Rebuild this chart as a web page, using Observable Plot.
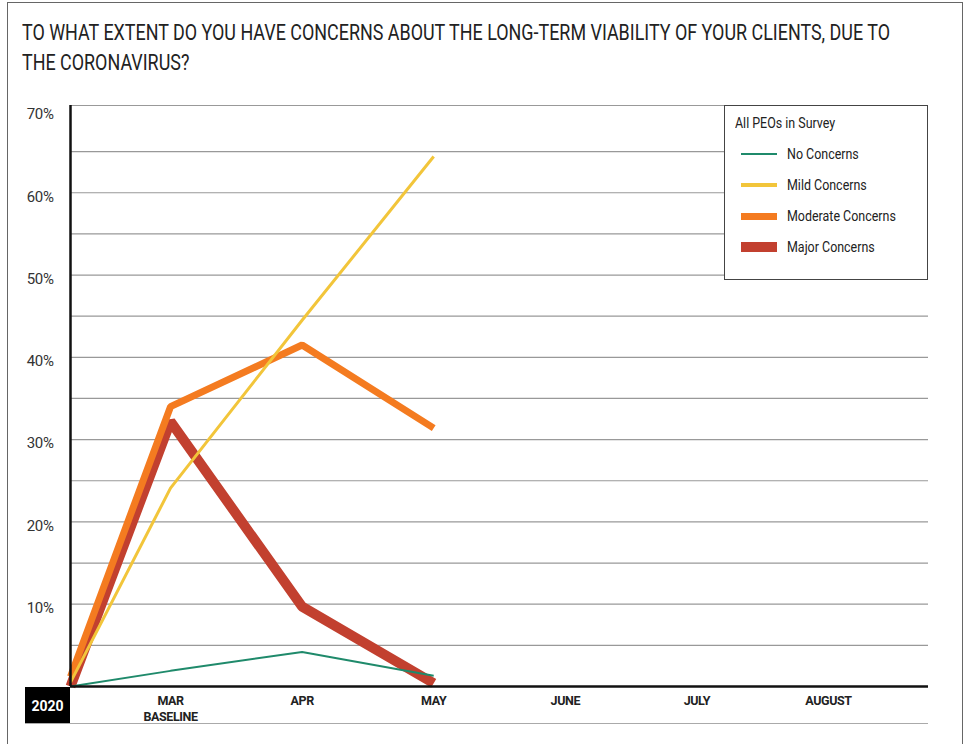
<!DOCTYPE html>
<html>
<head>
<meta charset="utf-8">
<script src="https://cdn.jsdelivr.net/npm/d3@7"></script>
<script src="https://cdn.jsdelivr.net/npm/@observablehq/plot@0.6"></script>
<style>
  html, body { margin: 0; padding: 0; background: #fff; }
  body { width: 967px; height: 744px; position: relative; overflow: hidden; font-family: Roboto, "Liberation Sans", sans-serif; }
  #frame { position: absolute; left: 7px; top: 2px; width: 956px; height: 800px; border: 1.5px solid #666; box-sizing: border-box; }
  .tline { position: absolute; left: 22px; font-size: 22px; line-height: 26px; color: #222; white-space: nowrap; transform-origin: 0 0; }
  #chart { position: absolute; left: 0; top: 88px; }
  #year { position: absolute; left: 25px; top: 687px; width: 45px; height: 37px; background: #000; color: #fff;
          font: bold 14px Roboto, "Liberation Sans", sans-serif; display: flex; align-items: center; justify-content: center; }
  #baseline { position: absolute; left: 25px; top: 723px; width: 903px; height: 0; border-top: 1.5px solid #aaa; }
  #legend { position: absolute; left: 724px; top: 105px; width: 204px; height: 175px; background: #fff; border: 1px solid #444;
            box-sizing: border-box; font-size: 15px; color: #222; }
  #legend .ttl { position: absolute; left: 10px; top: 8px; white-space: nowrap; transform-origin: 0 50%; transform: scaleX(0.83); }
  #legend .row { position: absolute; left: 16px; height: 20px; display: flex; align-items: center; white-space: nowrap; }
  #legend .sw { width: 36px; margin-right: 10px; flex: none; }
  #legend .lb { display: inline-block; transform-origin: 0 50%; transform: scaleX(0.83); }
</style>
</head>
<body>
<div id="frame"></div>
<div id="t1" class="tline" style="top:20px"></div>
<div id="t2" class="tline" style="top:50px"></div>
<div id="chart"></div>
<div id="year"></div>
<div id="baseline"></div>
<div id="legend"></div>
<script>
// ---- data ----
const titleLines = ["TO WHAT EXTENT DO YOU HAVE CONCERNS ABOUT THE LONG-TERM VIABILITY OF YOUR CLIENTS, DUE TO", "THE CORONAVIRUS?"];
const yearLabel = "2020";
const legendTitle = "All PEOs in Survey";
const monthLabels = ["MAR\nBASELINE", "APR", "MAY", "JUNE", "JULY", "AUGUST"];
const seriesNames = ["No Concerns", "Mild Concerns", "Moderate Concerns", "Major Concerns"];
const seriesColors = ["#1f8a6b", "#f2c53a", "#f47b20", "#c2402f"];
const seriesWidths = [2, 3, 7, 10];
// values at: start (2020), MAR baseline, APR, MAY  (percent)
const noConcerns = [0, 1.9, 4.2, 1.3];
const mildConcerns = [0.5, 24.1, 44.5, 64.4];
const moderateConcerns = [1.2, 34.0, 41.5, 31.4];
const majorConcerns = [0, 32.2, 9.7, 0.4];
const yTicks = [10, 20, 30, 40, 50, 60, 70];
const yGrid = [5, 10, 15, 20, 25, 30, 35, 40, 45, 50, 55, 60, 65];
const yMax = 70.6;
const xStart = -0.76, xEnd = 5.76;

// ---- title ----
const t1 = document.getElementById("t1"), t2 = document.getElementById("t2");
t1.textContent = titleLines[0]; t2.textContent = titleLines[1];
const sc = 868 / t1.getBoundingClientRect().width;
t1.style.transform = `scaleX(${sc})`; t2.style.transform = `scaleX(${sc})`;
document.getElementById("year").textContent = yearLabel;

// ---- chart ----
const allSeries = [noConcerns, mildConcerns, moderateConcerns, majorConcerns];
const rows = [];
allSeries.forEach((vals, s) => vals.forEach((v, i) => rows.push({
  series: seriesNames[s], s, x: i === 0 ? xStart : i - 1, y: v
})));
const drawOrder = [3, 2, 1, 0];

const lineMarks = drawOrder.map(s => Plot.line(rows.filter(d => d.s === s), {
  x: "x", y: "y", stroke: seriesColors[s], strokeWidth: seriesWidths[s],
  strokeLinejoin: "miter", strokeLinecap: "butt"
}));

const chart = Plot.plot({
  width: 967,
  height: 656,
  marginTop: 17,
  marginBottom: 58,
  marginLeft: 70,
  marginRight: 39,
  style: { fontFamily: "Roboto, 'Liberation Sans', sans-serif", background: "transparent", letterSpacing: "-0.4px" },
  x: { type: "linear", domain: [xStart, xEnd], label: null },
  y: { domain: [0, yMax], label: null },
  marks: [
    Plot.ruleY(yGrid, { stroke: "#999", strokeWidth: 1.2 }),
    Plot.ruleY([yMax], { stroke: "#999", strokeWidth: 1.2 }),
    Plot.axisY(yTicks, { tickSize: 0, tickPadding: 17, tickFormat: d => d + "%", fontSize: 15, fill: "#333", dy: 4, label: null }),
    Plot.axisX(d3.range(monthLabels.length), { tickSize: 0, tickPadding: 7, tickFormat: i => monthLabels[i], fontSize: 12.5, fontWeight: "bold", fill: "#222", lineHeight: 1.3, label: null }),
    ...lineMarks,
    Plot.ruleY([0], { stroke: "#111", strokeWidth: 2.5 }),
    Plot.ruleX([xStart], { stroke: "#111", strokeWidth: 2.5 })
  ]
});
document.getElementById("chart").appendChild(chart);

// ---- legend ----
const lg = document.getElementById("legend");
const t = document.createElement("div"); t.className = "ttl"; t.textContent = legendTitle; lg.appendChild(t);
seriesNames.forEach((name, i) => {
  const r = document.createElement("div"); r.className = "row"; r.style.top = (38 + i * 31) + "px";
  const sw = document.createElement("div"); sw.className = "sw";
  sw.style.height = [2, 4, 7, 10][i] + "px"; sw.style.background = seriesColors[i];
  const lb = document.createElement("span"); lb.className = "lb"; lb.textContent = name;
  r.appendChild(sw); r.appendChild(lb); lg.appendChild(r);
});
</script>
</body>
</html>
